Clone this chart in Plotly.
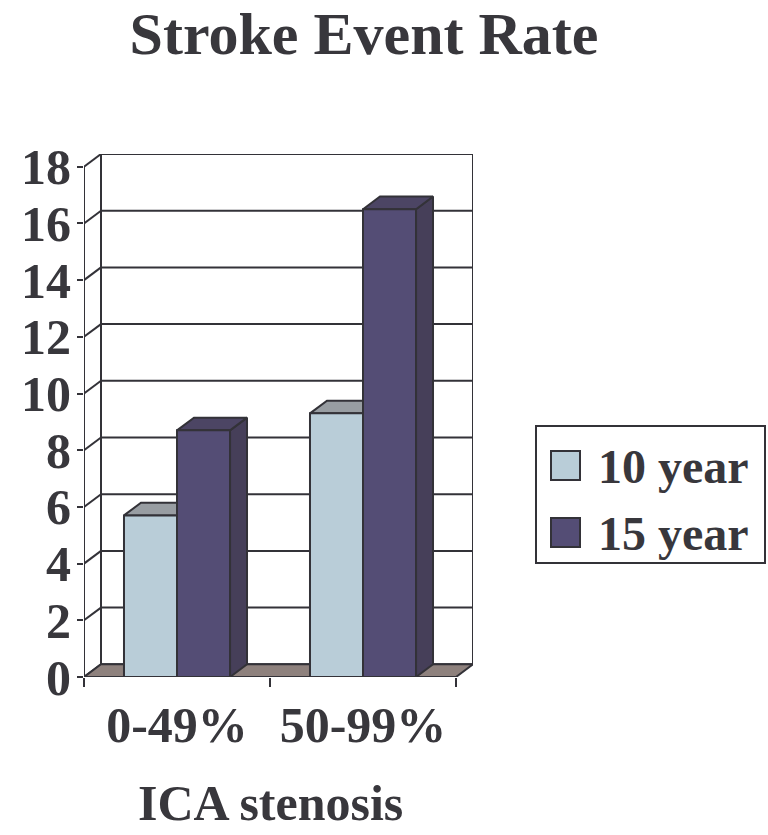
import plotly.graph_objects as go

# ---- data -------------------------------------------------------------
categories = ["0-49%", "50-99%"]
series_names = ["10 year", "15 year"]
rate_10yr = [5.7, 9.3]
rate_15yr = [8.7, 16.5]
y_ticks = [0, 2, 4, 6, 8, 10, 12, 14, 16, 18]
x_title = "ICA stenosis"
chart_title = "Stroke Event Rate"

# ---- styling ----------------------------------------------------------
FONT = "Liberation Serif"
TEXT_COLOR = "#38373c"
EDGE = "#333238"
FACE = {"10 year": "#b9cdd8", "15 year": "#544d75"}
TOP = {"10 year": "#989da2", "15 year": "#4c4564"}
SIDE = {"10 year": "#8a9aa3", "15 year": "#463f59"}
FLOOR = "#8e817d"

W, H = 768, 835
ML, MR, MT, MB = 84, 295, 154, 158
plot_w = W - ML - MR
plot_h = H - MT - MB

# pseudo-3D depth of the chart box, in pixels (right, up)
DEPTH_X, DEPTH_Y = 17, 12.7
Y_MAX = y_ticks[-1]
x_lo, x_hi = -0.5, len(categories) - 0.5
x_unit = (plot_w - DEPTH_X) / (x_hi - x_lo)
y_unit = (plot_h - DEPTH_Y) / Y_MAX
dxu = DEPTH_X / x_unit
dyu = DEPTH_Y / y_unit

BAR_GAP = 0.43
group_w = 1 - BAR_GAP
bar_w = group_w / len(series_names)

fig = go.Figure()


def line(xs, ys, width=2):
    fig.add_trace(go.Scatter(x=xs, y=ys, mode="lines",
                             line=dict(color=EDGE, width=width),
                             hoverinfo="skip", showlegend=False))


def poly(xs, ys, fill):
    fig.add_trace(go.Scatter(x=xs + [xs[0]], y=ys + [ys[0]], mode="lines",
                             fill="toself", fillcolor=fill,
                             line=dict(color=EDGE, width=2),
                             hoverinfo="skip", showlegend=False))


# back wall: gridlines, wall edges and the side-wall connectors
bx0, bx1 = x_lo + dxu, x_hi + dxu
for v in y_ticks:
    line([bx0, bx1], [v + dyu, v + dyu])
    line([x_lo, bx0], [v, v + dyu])
line([bx0, bx0], [dyu, Y_MAX + dyu])
line([bx1, bx1], [dyu, Y_MAX + dyu])
line([x_lo, x_lo], [0, Y_MAX])

# floor
poly([x_lo, x_hi, x_hi + dxu, x_lo + dxu], [0, 0, dyu, dyu], FLOOR)

# bars: side face, top face, then front face, left to right
series = {"10 year": rate_10yr, "15 year": rate_15yr}
for ci, cat in enumerate(categories):
    for si, name in enumerate(series_names):
        v = series[name][ci]
        x0 = ci - group_w / 2 + si * bar_w
        x1 = x0 + bar_w
        poly([x1, x1, x1 + dxu, x1 + dxu], [0, v, v + dyu, dyu], SIDE[name])
        poly([x0, x1, x1 + dxu, x0 + dxu], [v, v, v + dyu, v + dyu], TOP[name])
        poly([x0, x1, x1, x0], [0, 0, v, v], FACE[name])


def px_to_paper(px, py):
    return (px - ML) / plot_w, (H - MB - py) / plot_h


# legend box
lx0, ly0 = px_to_paper(536, 426)
lx1, ly1 = px_to_paper(765, 563)
fig.add_shape(type="rect", xref="paper", yref="paper", x0=lx0, x1=lx1,
              y0=ly1, y1=ly0, line=dict(color=EDGE, width=2), fillcolor="white")
for i, name in enumerate(series_names):
    top_px = 451 + i * 67
    sx0, sy0 = px_to_paper(551, top_px)
    sx1, sy1 = px_to_paper(580, top_px + 29)
    fig.add_shape(type="rect", xref="paper", yref="paper", x0=sx0, x1=sx1,
                  y0=sy1, y1=sy0, line=dict(color=EDGE, width=2),
                  fillcolor=FACE[name])
    tx, ty = px_to_paper(596, top_px + 15)
    fig.add_annotation(xref="paper", yref="paper", x=tx, y=ty, text=name,
                       showarrow=False, xanchor="left", yanchor="middle",
                       font=dict(family=FONT, size=48, color=TEXT_COLOR,
                                 weight="bold"))

# x-axis title, centred under the category axis
_, ay = px_to_paper(0, 803)
fig.add_annotation(xref="x", yref="paper", x=(x_lo + x_hi) / 2, y=ay,
                   text=x_title, showarrow=False, xanchor="center",
                   yanchor="middle",
                   font=dict(family=FONT, size=50, color=TEXT_COLOR,
                             weight="bold"))

fig.update_layout(
    width=W, height=H,
    margin=dict(l=ML, r=MR, t=MT, b=MB, pad=0),
    paper_bgcolor="white", plot_bgcolor="white",
    showlegend=False,
    title=dict(text=chart_title, x=364 / W, xanchor="center", xref="container",
               y=1 - 12 / H, yanchor="top", yref="container",
               font=dict(family=FONT, size=60, color=TEXT_COLOR,
                         weight="bold")),
    xaxis=dict(range=[x_lo, x_hi + dxu], tickmode="array",
               tickvals=list(range(len(categories))), ticktext=categories,
               ticks="", showgrid=False, zeroline=False, showline=False,
               ticklabelstandoff=14,
               tickfont=dict(family=FONT, size=50, color=TEXT_COLOR,
                             weight="bold"),
               minor=dict(tickmode="array",
                          tickvals=[x_lo + k for k in range(len(categories) + 1)],
                          ticks="outside", ticklen=9, tickwidth=2,
                          tickcolor=EDGE, showgrid=False),
               fixedrange=True),
    yaxis=dict(range=[0, Y_MAX + dyu], tickmode="array", tickvals=y_ticks,
               ticks="outside", ticklen=6, tickwidth=2, tickcolor=EDGE,
               showgrid=False, zeroline=False, showline=False,
               ticklabelstandoff=-4,
               tickfont=dict(family=FONT, size=50, color=TEXT_COLOR,
                             weight="bold"),
               fixedrange=True),
)

fig.write_html("out.html", config={"displayModeBar": False})
